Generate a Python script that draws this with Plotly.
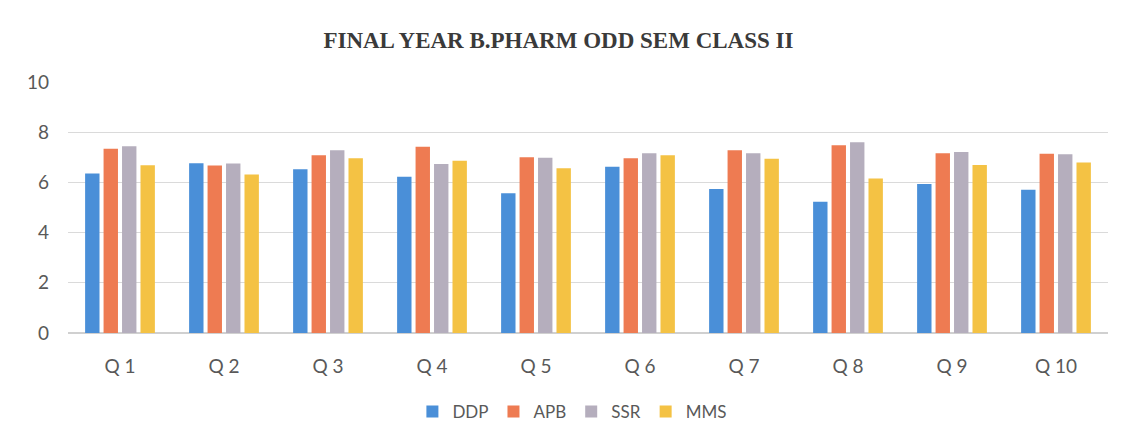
import plotly.graph_objects as go

# data
questions = ["Q 1", "Q 2", "Q 3", "Q 4", "Q 5", "Q 6", "Q 7", "Q 8", "Q 9", "Q 10"]
ddp = [6.35, 6.76, 6.52, 6.23, 5.57, 6.62, 5.74, 5.23, 5.94, 5.71]
apb = [7.34, 6.67, 7.08, 7.42, 7.00, 6.96, 7.28, 7.48, 7.16, 7.14]
ssr = [7.44, 6.75, 7.28, 6.73, 6.98, 7.16, 7.16, 7.60, 7.21, 7.12]
mms = [6.68, 6.31, 6.96, 6.86, 6.56, 7.08, 6.94, 6.16, 6.69, 6.79]

series = [("DDP", ddp, "#4A8FD8"), ("APB", apb, "#EE7B52"),
          ("SSR", ssr, "#B5AEBD"), ("MMS", mms, "#F4C244")]

fig = go.Figure()
for name, vals, col in series:
    fig.add_trace(go.Bar(x=questions, y=vals, name=name, marker_color=col,
                         marker_line_width=0))

# page body has an 8px margin, so the figure is 8px smaller each way
fig.update_layout(
    width=1121, height=438,
    margin=dict(l=60, r=21, t=74, b=113),
    paper_bgcolor="white", plot_bgcolor="white",
    barmode="group", bargap=0.29, bargroupgap=0.22,
    title=dict(text="<b>FINAL YEAR B.PHARM ODD SEM CLASS II</b>",
               xref="container", x=0.491, xanchor="center",
               yref="container", y=0.927, yanchor="middle",
               font=dict(family="Liberation Serif", size=23, color="#3a3a3a")),
    font=dict(family="Lato", color="#595959"),
    legend=dict(orientation="h", x=0.485, xanchor="center", y=-0.315, yanchor="middle",
                font=dict(size=17, color="#595959"), itemwidth=30),
    showlegend=True,
)
fig.update_yaxes(range=[0, 10], dtick=2, showgrid=True, gridcolor="#DADADA",
                 zeroline=True, zerolinecolor="#D0D0D0", ticks="", automargin=False,
                 tickfont=dict(size=19, color="#595959"), ticklabelstandoff=18)
fig.update_xaxes(showline=False, ticks="", automargin=False,
                 tickfont=dict(size=19, color="#595959"), ticklabelstandoff=20)

fig.write_html("out.html")
